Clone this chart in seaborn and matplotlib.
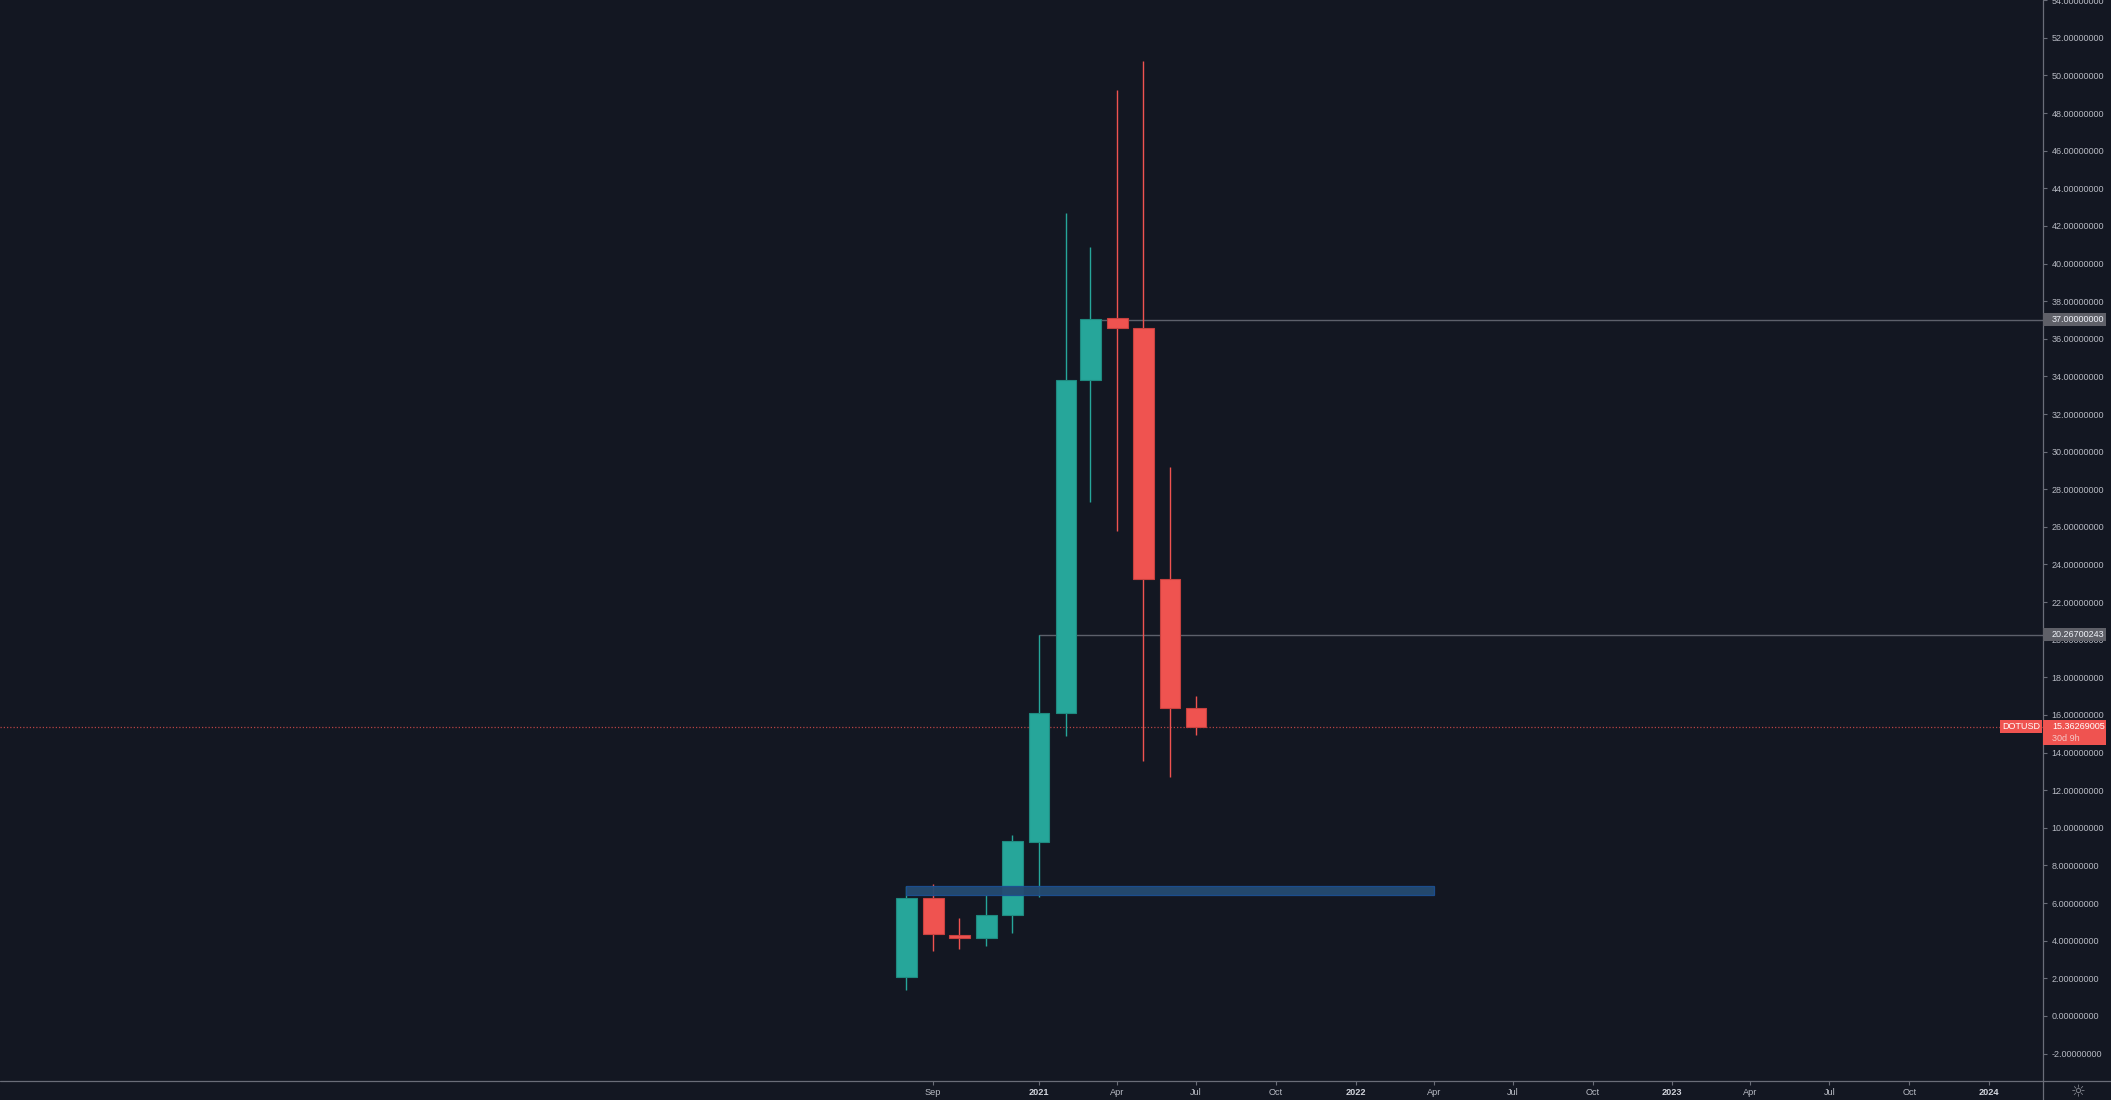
import numpy as np
import pandas as pd
import matplotlib
matplotlib.use("Agg")
import matplotlib.pyplot as plt
import matplotlib.dates as mdates
from matplotlib.patches import Rectangle
from matplotlib.lines import Line2D
from matplotlib.transforms import IdentityTransform
import seaborn as sns

# ---------------- data ----------------
months = ["2020-08-01", "2020-09-01", "2020-10-01", "2020-11-01", "2020-12-01", "2021-01-01",
          "2021-02-01", "2021-03-01", "2021-04-01", "2021-05-01", "2021-06-01", "2021-07-01"]
opens  = [2.09, 6.29, 4.32, 4.15, 5.35, 9.25, 16.09, 33.83, 37.10, 36.58, 23.24, 16.39]
closes = [6.29, 4.34, 4.16, 5.37, 9.29, 16.12, 33.83, 37.05, 36.56, 23.24, 16.36, 15.36269005]
highs  = [6.91, 7.02, 5.19, 6.45, 9.61, 20.26700243, 42.70, 40.90, 49.20, 50.77, 29.20, 17.00]
lows   = [1.38, 3.47, 3.55, 3.74, 4.43, 6.34, 14.90, 27.30, 25.80, 13.54, 12.71, 14.95]

level_lines = [37.0, 20.26700243]
level_starts = ["2021-03-01", "2021-01-01"]
last_price = 15.36269005
symbol = "DOTUSD"
countdown = "30d 9h"
zone_low, zone_high = 6.43, 6.91
zone_start, zone_end = "2020-08-01", "2022-04-01"

ytick_values = list(range(-2, 56, 2))
xtick_dates = ["2020-09-01", "2021-01-01", "2021-04-01", "2021-07-01", "2021-10-01", "2022-01-01",
               "2022-04-01", "2022-07-01", "2022-10-01", "2023-01-01", "2023-04-01", "2023-07-01",
               "2023-10-01", "2024-01-01"]
xtick_labels = ["Sep", "2021", "Apr", "Jul", "Oct", "2022", "Apr", "Jul", "Oct", "2023", "Apr", "Jul",
                "Oct", "2024"]

# ---------------- style ----------------
BG = "#131722"
UP = "#26a69a"
DOWN = "#ef5350"
AXC = "#6a6d78"
TXT = "#b8bbc4"

sns.set_theme(style="dark", rc={"axes.facecolor": BG, "figure.facecolor": BG,
                                "savefig.facecolor": BG, "axes.grid": False})
plt.rcParams["font.family"] = ["Liberation Sans", "DejaVu Sans"]

W, H = 2111, 1100
AX_R, AX_B = 2043, 1081  # right edge and bottom edge (pixels from top-left)
fig = plt.figure(figsize=(W / 100, H / 100), dpi=100)
ax = fig.add_axes([0, (H - AX_B) / H, AX_R / W, AX_B / H])
ax.set_facecolor(BG)

df = pd.DataFrame({"date": pd.to_datetime(months), "open": opens, "close": closes,
                   "high": highs, "low": lows})
df["x"] = mdates.date2num(df["date"])
df["up"] = df["close"] >= df["open"]
df["color"] = np.where(df["up"], UP, DOWN)
df["edge"] = np.where(df["up"], "#1f8a80", "#c8413f")

# wicks
ax.vlines(df["x"], df["low"], df["high"], colors=df["color"], linewidth=1.0, zorder=3)
# bodies
ax.bar(df["x"], (df["close"] - df["open"]).abs().clip(lower=0.12),
       bottom=np.minimum(df["open"], df["close"]), width=24,
       color=df["color"], edgecolor=df["edge"], linewidth=0.8, zorder=4)

# zone rectangle
z0, z1 = mdates.date2num(pd.to_datetime(zone_start)), mdates.date2num(pd.to_datetime(zone_end))
ax.add_patch(Rectangle((z0, zone_low), z1 - z0, zone_high - zone_low,
                       facecolor="#244b72", edgecolor="#1c4f92", linewidth=0.9, zorder=5, alpha=0.95))

# axis limits
ref = mdates.date2num(pd.to_datetime("2021-01-01"))
ax.set_xlim(ref - 1197.6, ref + 1157.2)
ax.set_ylim(-3.46, 54.01)

# horizontal level lines
for lv, st in zip(level_lines, level_starts):
    s = mdates.date2num(pd.to_datetime(st))
    ax.plot([s, ref + 1157.2], [lv, lv], color="#5d606b", linewidth=1.0, zorder=2)

# last price dotted line
ax.axhline(last_price, color=DOWN, linewidth=0.9, linestyle=(0, (1, 1.6)), alpha=0.75, zorder=2)

# spines
for s in ["top", "left", "right", "bottom"]:
    ax.spines[s].set_visible(False)

# y axis on right
ax.yaxis.tick_right()
ax.set_yticks(ytick_values)
ax.set_yticklabels([f"{v:.8f}" for v in ytick_values])
ax.tick_params(axis="y", which="both", right=True, left=False, direction="out", length=3.2,
               width=0.8, color=AXC, labelcolor=TXT, labelsize=6.5, pad=2.8)

# x axis
ax.set_xticks(mdates.date2num(pd.to_datetime(xtick_dates)))
ax.set_xticklabels(xtick_labels)
ax.tick_params(axis="x", which="both", bottom=True, direction="out", length=3.0, width=0.8,
               color=AXC, labelcolor=TXT, labelsize=6.6, pad=2.0)
for lab in ax.get_xticklabels():
    if lab.get_text().isdigit():
        lab.set_fontweight("bold")
        lab.set_color("#d1d4dc")
ax.set_xlabel("")
ax.set_ylabel("")

# frame lines across the whole figure
fig.add_artist(Line2D([AX_R / W, AX_R / W], [0, 1], transform=fig.transFigure, color=AXC, linewidth=0.9))
fig.add_artist(Line2D([0, 1], [(H - AX_B) / H, (H - AX_B) / H], transform=fig.transFigure,
                      color=AXC, linewidth=0.9))

# gear icon
fig.text(2078 / W, (H - 1092) / H, "\u263c", color="#8a8d96", fontsize=12, ha="center", va="center",
         family="DejaVu Sans")


def ypix(v):
    return ax.transData.transform((ref, v))[1]


def tag(v, text, fc, tc, x0=2043, x1=2106, h=13, line2=None):
    yc = ypix(v)
    hh = h if line2 is None else 25
    top = yc + h / 2
    fig.add_artist(Rectangle((x0, top - hh), x1 - x0, hh, transform=IdentityTransform(),
                             facecolor=fc, edgecolor="none", zorder=20))
    fig.text(2052 / W, yc / H, text, color=tc, fontsize=6.5, ha="left", va="center", zorder=21)
    if line2 is not None:
        fig.text(2052 / W, (yc - 12) / H, line2, color="#f5c8c7", fontsize=6.5, ha="left",
                 va="center", zorder=21)


tag(level_lines[0], f"{level_lines[0]:.8f}", "#5f6068", "#f0f3fa")
tag(level_lines[1], f"{level_lines[1]:.8f}", "#5f6068", "#f0f3fa")
tag(last_price, f"{last_price:.8f}", DOWN, "#ffffff", line2=countdown)

# symbol tag to the left of axis
yc = ypix(last_price)
fig.add_artist(Rectangle((2000, yc - 6.5), 42, 13, transform=IdentityTransform(),
                         facecolor=DOWN, edgecolor="none", zorder=20))
fig.text(2021 / W, yc / H, symbol, color="#ffffff", fontsize=6.5, ha="center", va="center", zorder=21)

fig.savefig("out.png", dpi=100, facecolor=BG)
